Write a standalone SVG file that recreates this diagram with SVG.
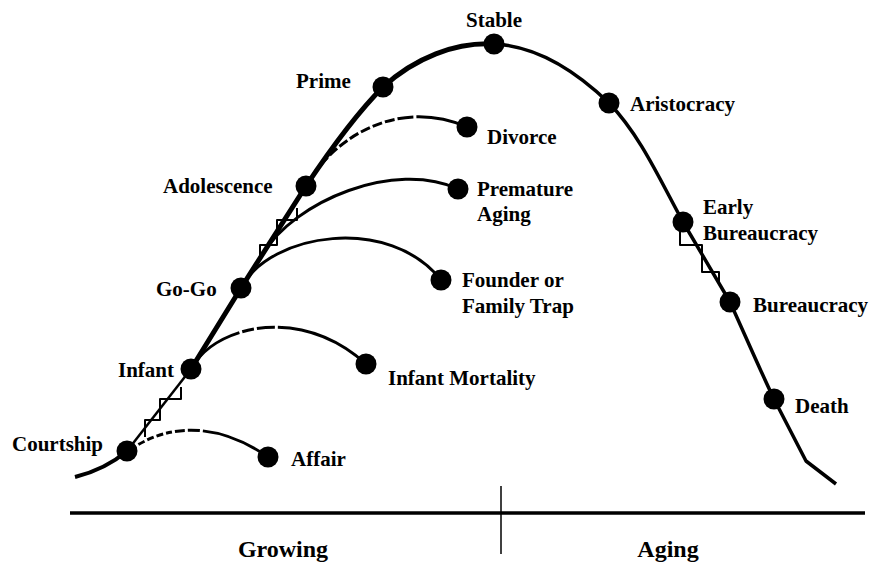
<svg xmlns="http://www.w3.org/2000/svg" width="871" height="563" viewBox="0 0 871 563">
<style>
.lbl{font-family:"Liberation Serif","Times New Roman",serif;font-weight:bold;font-size:21px;fill:#000}
.ax{font-family:"Liberation Serif","Times New Roman",serif;font-weight:bold;font-size:24px;fill:#000}
.ln{fill:none;stroke:#000;stroke-linecap:butt;stroke-linejoin:round}
.dot{fill:#000}
</style>
<rect width="871" height="563" fill="#fff"/>
<g id="connectors">
  <path class="ln" stroke-width="4" d="M75,477 C95,472 113,463 127,451"/>
  <path class="ln" stroke-width="2.5" d="M127,451 L191,369"/>
  <path class="ln" stroke-width="5" d="M191,369 L241,288 L306,186 C330,150 355,115 383,87 C415,58 455,42 494,44"/>
  <path class="ln" stroke-width="3.5" d="M494,44 C540,46 580,75 609,103 C640,135 660,180 683,222 L730,302 C745,335 760,370 774,399 L806,461 L836,484"/>
  <polyline class="ln" stroke-width="2" points="145,437 145,420 160,420 160,399 181,399 181,387"/>
  <polyline class="ln" stroke-width="2" points="260,258 260,245 277,245 277,220 297,220 297,208"/>
  <polyline class="ln" stroke-width="2" points="680,232 680,245 702,245 702,272 719,272 719,284"/>
  <path class="ln" stroke-width="3" stroke-dasharray="7 3 7 3 7 3 7 3 6 3 10 3 12 3 300 1" d="M130,450 C165,425 215,420 268,457"/>
  <path class="ln" stroke-width="3" stroke-dasharray="62 3 12 3 18 3 300 1" d="M191,369 C215,325 300,305 366,364"/>
  <path class="ln" stroke-width="3" d="M241,288 C270,232 390,215 441,280"/>
  <path class="ln" stroke-width="3" d="M262,255 C295,200 395,160 458,189"/>
  <path class="ln" stroke-width="3" stroke-dasharray="10 3 10 3 10 3 10 3 10 3 10 3 10 3 10 3 10 3 16 3 300 1" d="M306,186 C335,135 400,98 467,127"/>
  <line class="ln" stroke-width="3.5" x1="70" y1="513" x2="865" y2="513"/>
  <line class="ln" stroke-width="1.5" x1="501" y1="486" x2="501" y2="554"/>
</g>
<g id="courtship"><circle class="dot" cx="127" cy="451" r="10.5"/><text class="lbl" x="12" y="451">Courtship</text></g>
<g id="affair"><circle class="dot" cx="268" cy="457" r="10.5"/><text class="lbl" x="291" y="466">Affair</text></g>
<g id="infant"><circle class="dot" cx="191" cy="369" r="10.5"/><text class="lbl" x="118" y="377">Infant</text></g>
<g id="infant-mortality"><circle class="dot" cx="366" cy="364" r="10.5"/><text class="lbl" x="388" y="385">Infant Mortality</text></g>
<g id="gogo"><circle class="dot" cx="241" cy="288" r="10.5"/><text class="lbl" x="156" y="296">Go-Go</text></g>
<g id="founder"><circle class="dot" cx="441" cy="280" r="10.5"/><text class="lbl" x="462" y="287">Founder or</text><text class="lbl" x="462" y="313">Family Trap</text></g>
<g id="adolescence"><circle class="dot" cx="306" cy="186" r="10.5"/><text class="lbl" x="163" y="193">Adolescence</text></g>
<g id="premature"><circle class="dot" cx="458" cy="189" r="10.5"/><text class="lbl" x="477" y="196">Premature</text><text class="lbl" x="477" y="221">Aging</text></g>
<g id="prime"><circle class="dot" cx="383" cy="87" r="10.5"/><text class="lbl" x="296" y="88">Prime</text></g>
<g id="divorce"><circle class="dot" cx="467" cy="127" r="10.5"/><text class="lbl" x="487" y="144">Divorce</text></g>
<g id="stable"><circle class="dot" cx="494" cy="44" r="10.5"/><text class="lbl" x="466" y="27">Stable</text></g>
<g id="aristocracy"><circle class="dot" cx="609" cy="103" r="10.5"/><text class="lbl" x="630" y="111">Aristocracy</text></g>
<g id="early-bureaucracy"><circle class="dot" cx="683" cy="222" r="10.5"/><text class="lbl" x="703" y="214">Early</text><text class="lbl" x="703" y="240">Bureaucracy</text></g>
<g id="bureaucracy"><circle class="dot" cx="730" cy="302" r="10.5"/><text class="lbl" x="753" y="312">Bureaucracy</text></g>
<g id="death"><circle class="dot" cx="774" cy="399" r="10.5"/><text class="lbl" x="795" y="413">Death</text></g>
<g id="axis-labels"><text class="ax" x="283" y="557" text-anchor="middle">Growing</text><text class="ax" x="668" y="557" text-anchor="middle">Aging</text></g>
</svg>
